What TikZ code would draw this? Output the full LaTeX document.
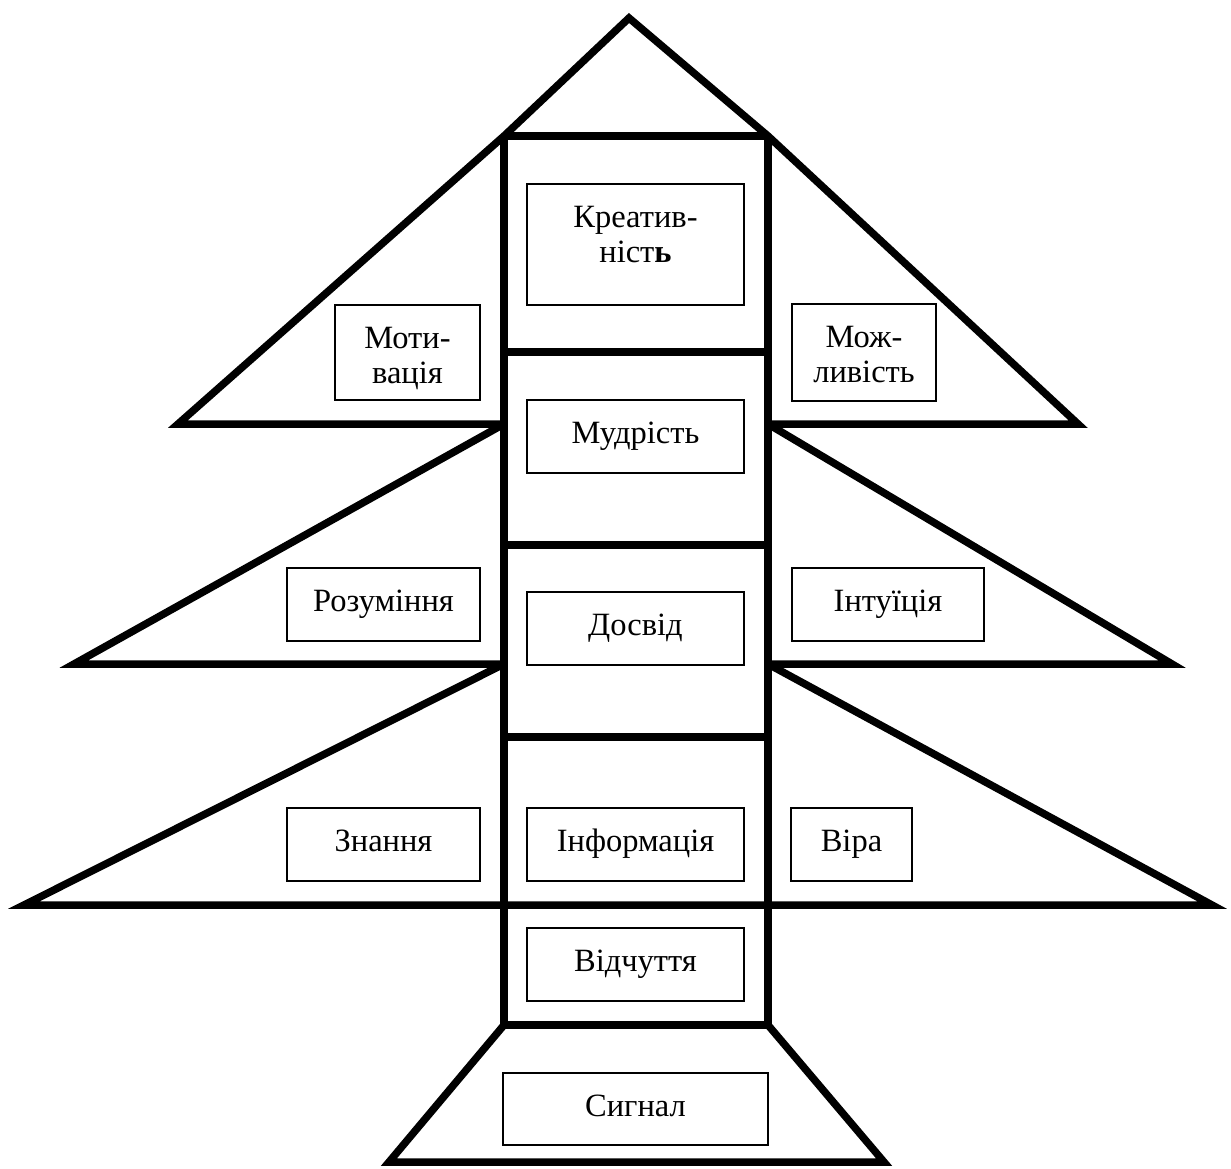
\documentclass[tikz,border=0pt]{standalone}
\usepackage{fontspec}
\setmainfont{Liberation Serif}
\begin{document}
\begin{tikzpicture}[x=1pt,y=-1pt,
  frame/.style={line width=7.5pt, line join=miter},
  box/.style={draw, line width=1.3pt, inner sep=0pt, rectangle},
  lbl/.style={align=center, inner sep=0pt, anchor=north,
    font=\fontsize{32.5}{35.5}\selectfont}]
\useasboundingbox (0,0) rectangle (1231,1169);
% trunk
\draw[frame] (504,136) -- (768,136);
\draw[frame] (504,136) -- (504,1025) -- (768,1025) -- (768,136);
\draw[frame] (504,352) -- (768,352);
\draw[frame] (504,545) -- (768,545);
\draw[frame] (504,737) -- (768,737);
% roof and tier 1
\draw[frame] (504,424) -- (178,424) -- (504,136) -- (629,18) -- (768,136) -- (1078,424) -- (768,424);
% tier 2
\draw[frame] (504,424) -- (74,664) -- (504,664);
\draw[frame] (768,424) -- (1172,664) -- (768,664);
% tier 3
\draw[frame] (504,664) -- (24,905) -- (1212,905) -- (768,664);
% base trapezoid
\draw[frame] (504,1025) -- (389,1162) -- (884,1162) -- (768,1025);
% boxes
\node[box, minimum width=217pt, minimum height=121pt] (kre) at (635.5,244.5) {};
\node[box, minimum width=217pt, minimum height=73pt] (mud) at (635.5,436.5) {};
\node[box, minimum width=217pt, minimum height=73pt] (dos) at (635.5,628.5) {};
\node[box, minimum width=217pt, minimum height=73pt] (inf) at (635.5,844.5) {};
\node[box, minimum width=217pt, minimum height=73pt] (vid) at (635.5,964.5) {};
\node[box, minimum width=265pt, minimum height=72pt] (syg) at (635.5,1109) {};
\node[box, minimum width=145pt, minimum height=95pt] (mot) at (407.5,352.5) {};
\node[box, minimum width=144pt, minimum height=97pt] (mozh) at (864,352.5) {};
\node[box, minimum width=193pt, minimum height=73pt] (roz) at (383.5,604.5) {};
\node[box, minimum width=192pt, minimum height=73pt] (int) at (888,604.5) {};
\node[box, minimum width=193pt, minimum height=73pt] (zn) at (383.5,844.5) {};
\node[box, minimum width=121pt, minimum height=73pt] (vira) at (851.5,844.5) {};
% labels
\node[lbl] (kre-t) at ([yshift=-19pt]kre.north) {\strut Креатив-\\ніст\textbf{ь}};
\node[lbl] (mud-t) at ([yshift=-19pt]mud.north) {\strut Мудрість};
\node[lbl] (dos-t) at ([yshift=-19pt]dos.north) {\strut Досвід};
\node[lbl] (inf-t) at ([yshift=-19pt]inf.north) {\strut Інформація};
\node[lbl] (vid-t) at ([yshift=-19pt]vid.north) {\strut Відчуття};
\node[lbl] (syg-t) at ([yshift=-19pt]syg.north) {\strut Сигнал};
\node[lbl] (mot-t) at ([yshift=-19pt]mot.north) {\strut Моти-\\вація};
\node[lbl] (mozh-t) at ([yshift=-19pt]mozh.north) {\strut Мож-\\ливість};
\node[lbl] (roz-t) at ([yshift=-19pt]roz.north) {\strut Розуміння};
\node[lbl] (int-t) at ([yshift=-19pt]int.north) {\strut Інтуїція};
\node[lbl] (zn-t) at ([yshift=-19pt]zn.north) {\strut Знання};
\node[lbl] (vira-t) at ([yshift=-19pt]vira.north) {\strut Віра};
\end{tikzpicture}
\end{document}
